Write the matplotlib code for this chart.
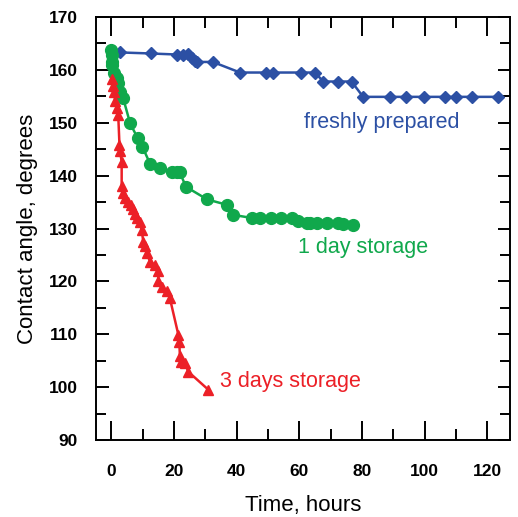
import matplotlib.pyplot as plt
from matplotlib.ticker import MultipleLocator

plt.rcParams['font.family'] = ['Liberation Sans', 'DejaVu Sans']

# freshly prepared sample
t_fresh = [0.5, 2.8, 12.7, 21.1, 22.8, 24.4, 25.7, 26.7, 27.4, 32.4, 41.1, 49.4, 51.7,
           60.5, 65.0, 67.7, 72.3, 76.7, 80.4, 88.9, 94.0, 99.9, 106.5, 110.2, 115.1, 123.5]
ca_fresh = [163.3, 163.3, 163.1, 162.9, 162.9, 163.0, 162.3, 161.7, 161.5, 161.5, 159.5, 159.5, 159.5,
            159.5, 159.5, 157.8, 157.8, 157.8, 154.9, 154.9, 154.9, 154.9, 154.9, 154.9, 154.9, 154.9]

# after 1 day storage
t_1day = [0.0, 0.1, 0.1, 0.2, 1.0, 1.7, 2.2, 2.8, 3.8, 6.0, 8.4, 9.9, 12.4, 15.5, 19.3, 20.9,
          21.9, 23.8, 30.6, 36.8, 38.7, 44.8, 47.5, 50.9, 54.2, 57.6, 59.7, 62.4, 63.4, 65.6,
          68.9, 72.3, 74.0, 77.2]
ca_1day = [163.7, 162.8, 161.5, 160.9, 159.4, 158.4, 157.5, 155.9, 154.6, 149.9, 147.1, 145.5,
           142.2, 141.4, 140.6, 140.6, 140.6, 137.9, 135.5, 134.5, 132.6, 132.0, 132.0, 132.0,
           132.0, 132.0, 131.4, 131.1, 131.0, 131.0, 131.0, 131.0, 130.8, 130.7]

# after 3 days storage
t_3day = [0.3, 0.6, 0.9, 1.2, 1.7, 2.2, 2.6, 2.8, 3.3, 3.3, 3.8, 4.5, 5.3, 6.2, 6.9, 7.6, 8.3,
          9.0, 9.7, 10.2, 10.8, 11.3, 12.4, 13.9, 15.0, 15.0, 16.1, 17.7, 18.7, 21.4, 21.7,
          21.9, 22.2, 23.5, 24.6, 31.0]
ca_3day = [158.2, 157.0, 155.8, 154.2, 152.7, 151.5, 145.8, 144.6, 142.6, 138.0, 136.8, 135.8,
           135.0, 134.4, 133.6, 132.8, 132.0, 131.3, 129.7, 127.5, 126.6, 125.3, 123.7, 123.1,
           121.9, 120.0, 119.0, 118.1, 116.8, 109.9, 108.6, 105.8, 104.8, 104.5, 102.9, 99.5]

c_blue = '#2c50a4'
c_green = '#10a84c'
c_red = '#ec2027'

fig = plt.figure(figsize=(5.18, 5.17), dpi=100)
ax = fig.add_axes([0.1853, 0.1489, 0.7993, 0.8182])

ax.plot(t_fresh, ca_fresh, '-D', color=c_blue, lw=1.8, ms=6.5)
ax.plot(t_1day, ca_1day, '-o', color=c_green, lw=1.8, ms=8.5)
ax.plot(t_3day, ca_3day, '-^', color=c_red, lw=1.8, ms=7.5)

ax.text(86.5, 150, 'freshly prepared', color=c_blue, fontsize=15.5, ha='center', va='center')
ax.text(80.4, 126.5, '1 day storage', color=c_green, fontsize=15.5, ha='center', va='center')
ax.text(57.1, 101, '3 days storage', color=c_red, fontsize=15.5, ha='center', va='center')

ax.set_xlim(-4.9, 127.3)
ax.set_ylim(90, 170)
ax.xaxis.set_major_locator(MultipleLocator(20))
ax.xaxis.set_minor_locator(MultipleLocator(10))
ax.yaxis.set_major_locator(MultipleLocator(10))
ax.yaxis.set_minor_locator(MultipleLocator(5))

ax.tick_params(which='both', direction='in', top=True, right=True, width=1.4, colors='black')
ax.tick_params(axis='x', which='major', length=13.5, pad=17)
ax.tick_params(axis='x', which='minor', length=8)
ax.tick_params(axis='y', which='major', length=9, pad=13)
ax.tick_params(axis='y', which='minor', length=7)
for lab in ax.get_xticklabels() + ax.get_yticklabels():
    lab.set_fontweight('bold')
    lab.set_fontsize(12.5)
for s in ax.spines.values():
    s.set_linewidth(1.4)

ax.set_xlabel('Time, hours', fontsize=16, labelpad=12)
ax.set_ylabel('Contact angle, degrees', fontsize=16, labelpad=8)

fig.savefig('out.png', dpi=100)
